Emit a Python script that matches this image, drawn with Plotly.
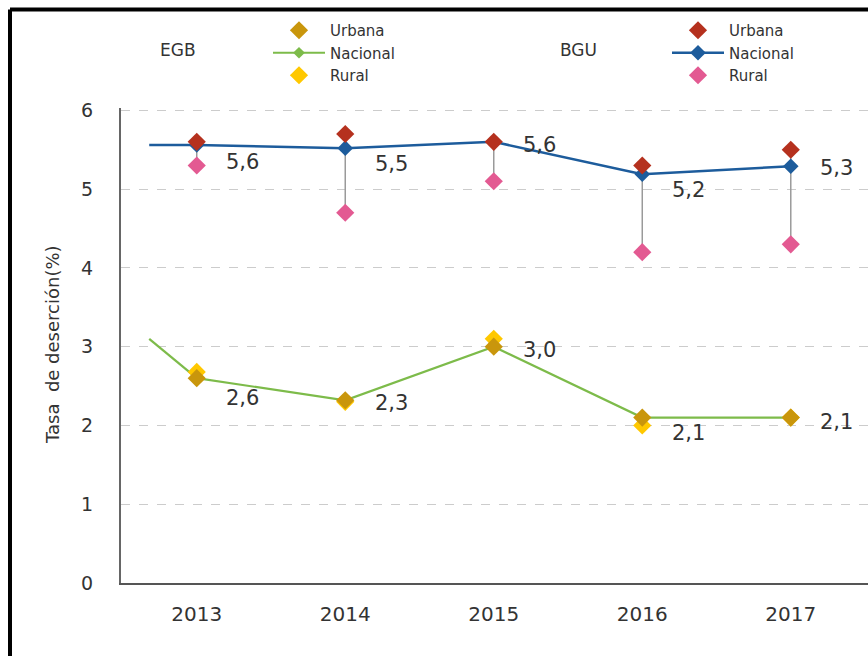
import plotly.graph_objects as go

# data
years = [2013, 2014, 2015, 2016, 2017]
line_start = 2012.68  # lines begin a little left of 2013

bgu_nacional = [5.56, 5.52, 5.6, 5.19, 5.29]
bgu_nacional_start = 5.56
bgu_urbana = [5.6, 5.7, 5.6, 5.3, 5.5]
bgu_rural = [5.3, 4.7, 5.1, 4.2, 4.3]

egb_nacional = [2.6, 2.32, 3.0, 2.1, 2.1]
egb_nacional_start = 3.1
egb_urbana = [2.6, 2.32, 3.0, 2.1, 2.1]
egb_rural = [2.68, 2.3, 3.1, 2.0, 2.1]

y_ticks = [0, 1, 2, 3, 4, 5, 6]

FONT = "DejaVu Sans, Verdana, sans-serif"
TXT = "#333333"

fig = go.Figure()

# grey connectors urbana -> rural (BGU)
cx, cy = [], []
for x, u, r in zip(years, bgu_urbana, bgu_rural):
    cx += [x, x, None]
    cy += [u, r, None]
fig.add_trace(go.Scatter(x=cx, y=cy, mode="lines", line=dict(color="#9a9a9a", width=1.5),
                         showlegend=False, hoverinfo="skip"))

# lead-in segments left of 2013
fig.add_trace(go.Scatter(x=[line_start, years[0]], y=[egb_nacional_start, egb_nacional[0]],
                         mode="lines", line=dict(color="#7dbb4a", width=2.2),
                         showlegend=False, hoverinfo="skip"))
fig.add_trace(go.Scatter(x=[line_start, years[0]], y=[bgu_nacional_start, bgu_nacional[0]],
                         mode="lines", line=dict(color="#1d5c9c", width=2.5),
                         showlegend=False, hoverinfo="skip"))

# EGB
fig.add_trace(go.Scatter(x=years, y=egb_nacional, mode="lines+markers", name="Nacional",
                         legend="legend", line=dict(color="#7dbb4a", width=2.2),
                         marker=dict(symbol="diamond", size=9, color="#7dbb4a"), legendrank=2))
fig.add_trace(go.Scatter(x=years, y=egb_rural, mode="markers", name="Rural", legend="legend",
                         marker=dict(symbol="diamond", size=14, color="#ffc800"), legendrank=3))
fig.add_trace(go.Scatter(x=years, y=egb_urbana, mode="markers", name="Urbana", legend="legend",
                         marker=dict(symbol="diamond", size=14, color="#c9960c"), legendrank=1))

# BGU
fig.add_trace(go.Scatter(x=years, y=bgu_nacional, mode="lines+markers", name="Nacional",
                         legend="legend2", line=dict(color="#1d5c9c", width=2.5),
                         marker=dict(symbol="diamond", size=12, color="#1d5c9c"), legendrank=2))
fig.add_trace(go.Scatter(x=years, y=bgu_urbana, mode="markers", name="Urbana", legend="legend2",
                         marker=dict(symbol="diamond", size=14, color="#b5311e"), legendrank=1))
fig.add_trace(go.Scatter(x=years, y=bgu_rural, mode="markers", name="Rural", legend="legend2",
                         marker=dict(symbol="diamond", size=14, color="#e35a92"), legendrank=3))

# value labels
bgu_dy = [17, 16, 3, 16, 2]
egb_dy = [20, 3, 3, 15, 4]
for x, v, dy in zip(years, bgu_nacional, bgu_dy):
    fig.add_annotation(x=x, y=v, text=f"{v:.1f}".replace(".", ","), showarrow=False,
                       xshift=46, yshift=-dy, font=dict(size=21, color=TXT, family=FONT))
for x, v, dy in zip(years, egb_nacional, egb_dy):
    fig.add_annotation(x=x, y=v, text=f"{v:.1f}".replace(".", ","), showarrow=False,
                       xshift=46, yshift=-dy, font=dict(size=21, color=TXT, family=FONT))

# group titles and y title
fig.add_annotation(x=(178 - 121) / 747, y=(583 - 50) / 475, xref="paper", yref="paper",
                   xanchor="center", yanchor="middle",
                   text="EGB", showarrow=False, font=dict(size=17, color=TXT, family=FONT))
fig.add_annotation(x=(578 - 121) / 747, y=(583 - 50) / 475, xref="paper", yref="paper",
                   xanchor="center", yanchor="middle",
                   text="BGU", showarrow=False, font=dict(size=17, color=TXT, family=FONT))
fig.add_annotation(x=(52 - 121) / 747, y=(583 - 345) / 475, xref="paper", yref="paper",
                   xanchor="center", yanchor="middle",
                   text="Tasa  de deserción(%)", textangle=-90, showarrow=False,
                   font=dict(size=18, color=TXT, family=FONT))

# black frame at top and left
fig.add_shape(type="line", xref="paper", yref="paper",
              x0=(10 - 121) / 747, x1=1.01, y0=(583 - 9.5) / 475, y1=(583 - 9.5) / 475,
              line=dict(color="black", width=4))
fig.add_shape(type="line", xref="paper", yref="paper",
              x0=(10 - 121) / 747, x1=(10 - 121) / 747, y0=(583 - 9.5) / 475, y1=-0.2,
              line=dict(color="black", width=4))

legend_style = dict(font=dict(size=15, color=TXT, family=FONT), bgcolor="rgba(0,0,0,0)",
                    itemwidth=52, tracegroupgap=0, xanchor="left", yanchor="top",
                    traceorder="normal")

fig.update_layout(
    width=868, height=656,
    margin=dict(l=121, r=0, t=108, b=73),
    paper_bgcolor="white", plot_bgcolor="white",
    font=dict(family=FONT, color=TXT),
    legend=dict(x=(268 - 121) / 747, y=(583 - 14) / 475, **legend_style),
    legend2=dict(x=(667 - 121) / 747, y=(583 - 14) / 475, **legend_style),
    xaxis=dict(range=[2012.49, 2017.52], tickvals=years, ticktext=[str(y) for y in years],
               showgrid=False, zeroline=False, showline=True, linecolor="#555555", linewidth=2,
               ticks="", ticklabelstandoff=12,
               tickfont=dict(size=20, color=TXT, family=FONT)),
    yaxis=dict(range=[0, 6.03], tickvals=y_ticks, showgrid=True, gridcolor="#cccccc",
               griddash="dash", gridwidth=1, zeroline=False, showline=True,
               linecolor="#666666", linewidth=2, ticks="", ticklabelstandoff=22,
               tickfont=dict(size=19, color=TXT, family=FONT)),
)

fig.write_html("out.html", config={"displayModeBar": False},
               post_script="document.body.style.margin='0';")
